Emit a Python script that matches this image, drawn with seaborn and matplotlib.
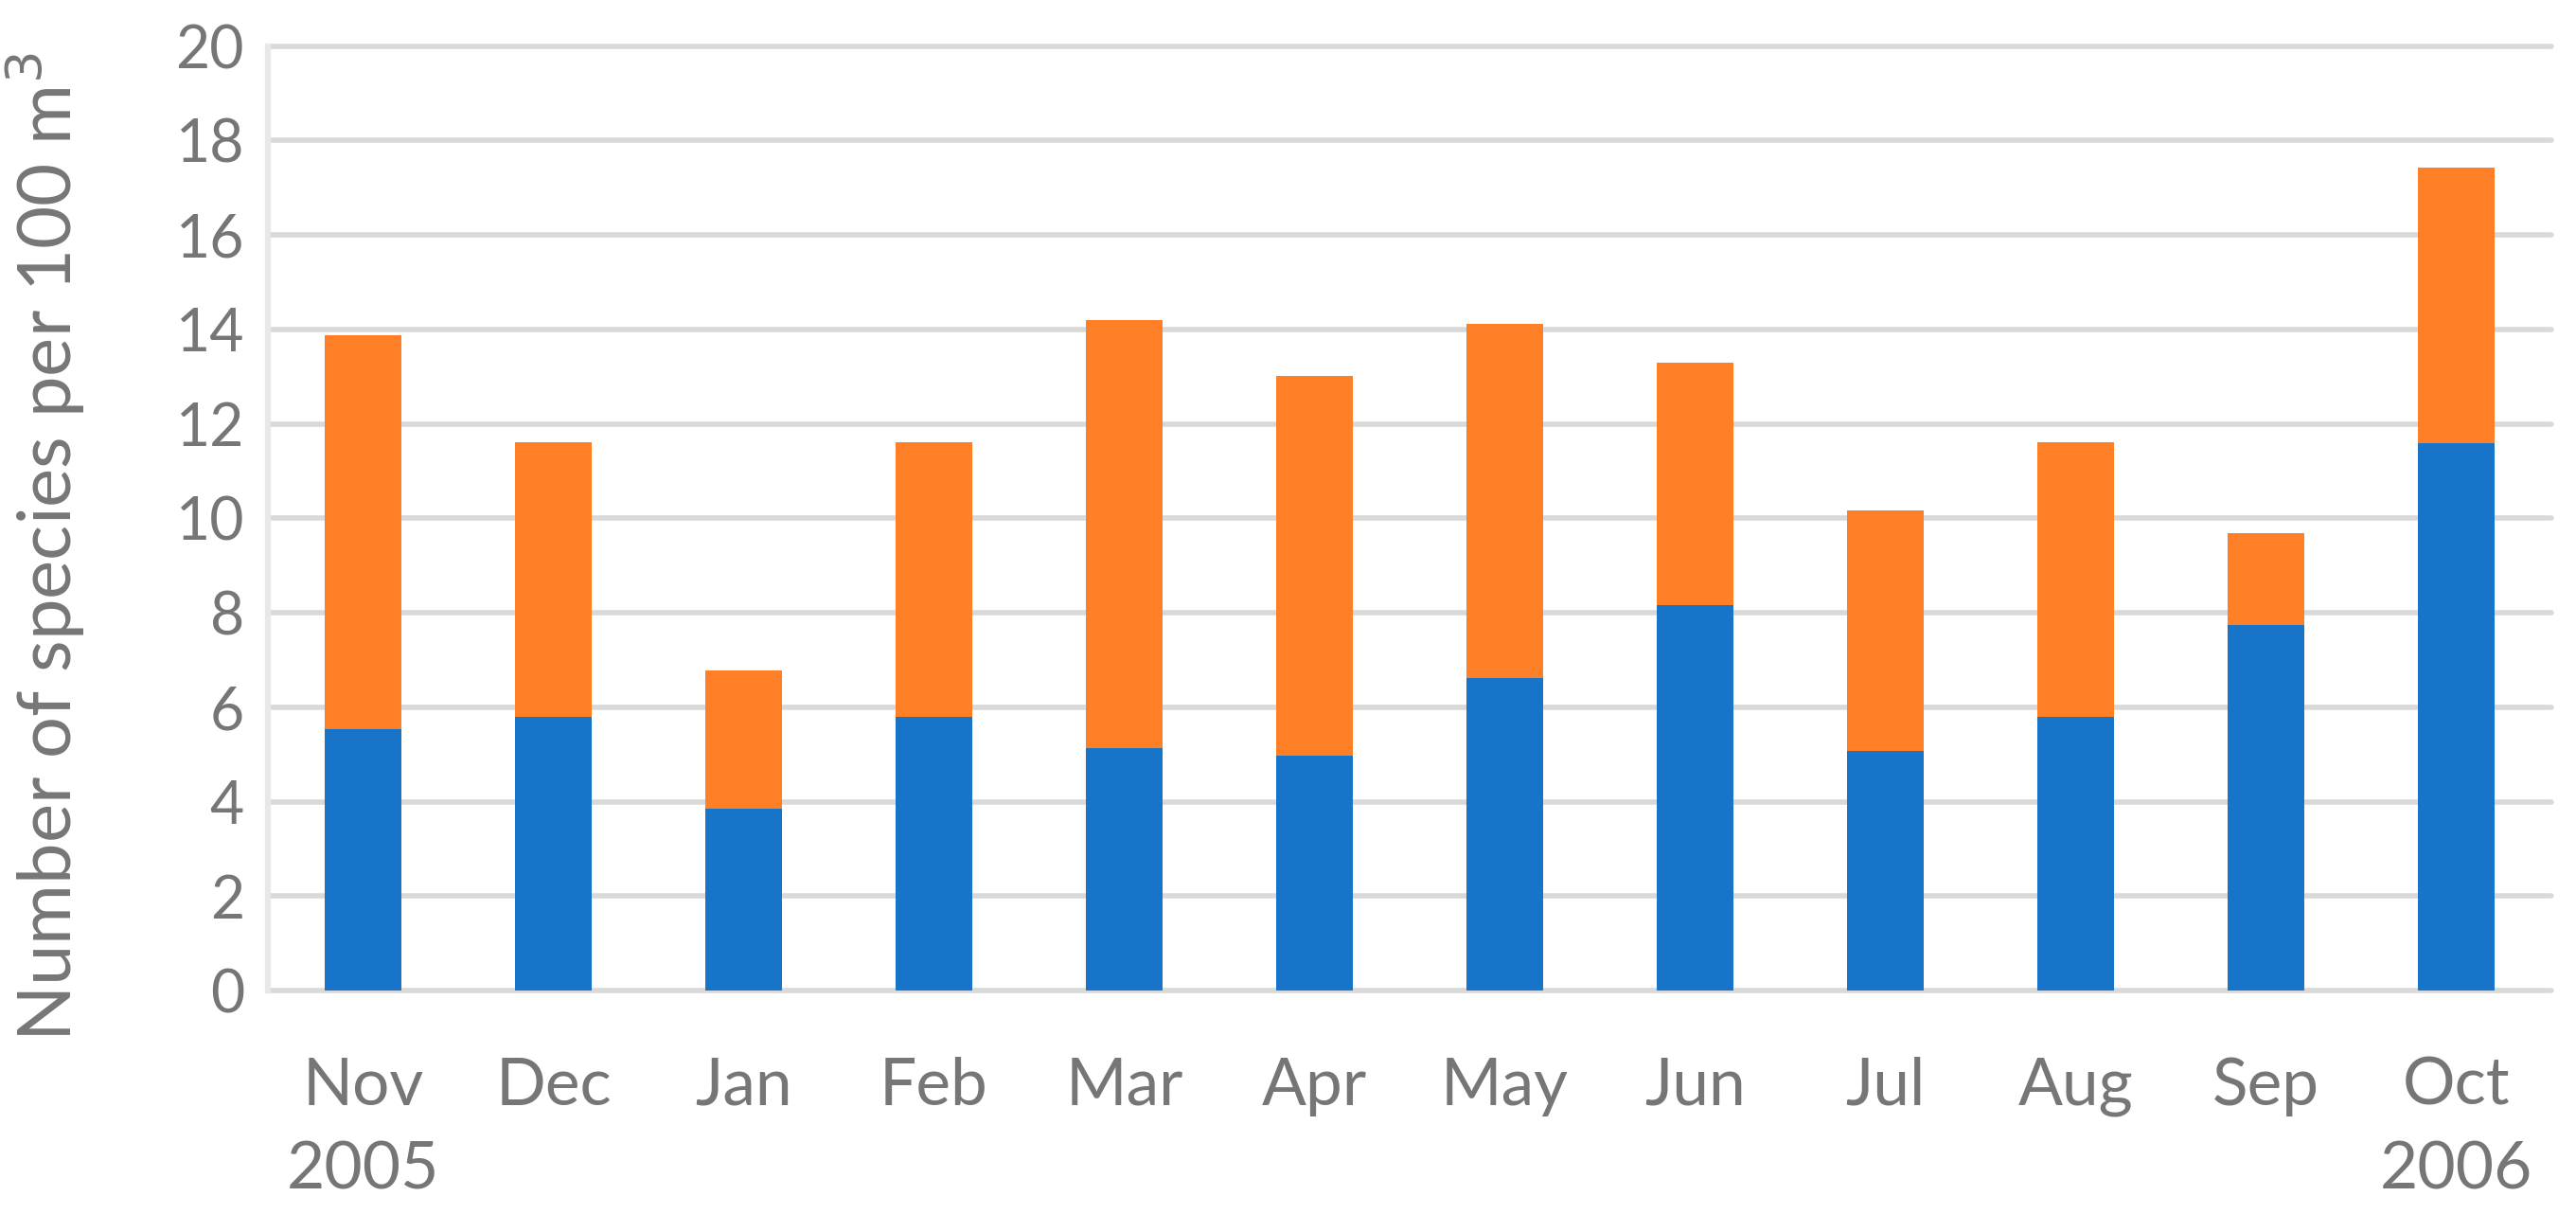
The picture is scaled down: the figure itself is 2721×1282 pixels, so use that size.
import matplotlib
matplotlib.use("Agg")
import matplotlib.pyplot as plt
import numpy as np
import pandas as pd
import seaborn as sns

# values (species per 100 m3)
MONTHS = ["Nov\n2005", "Dec", "Jan", "Feb", "Mar", "Apr", "May", "Jun",
          "Jul", "Aug", "Sep", "Oct\n2006"]
BLUE_VALUES = [5.54, 5.79, 3.85, 5.79, 5.14, 4.98, 6.62, 8.16, 5.07, 5.79, 7.74, 11.60]
ORANGE_VALUES = [8.33, 5.83, 2.92, 5.83, 9.06, 8.03, 7.49, 5.13, 5.09, 5.83, 1.94, 5.83]
Y_TICKS = list(range(0, 21, 2))

BLUE = "#1874c8"
ORANGE = "#fe7f26"
TEXT = "#767676"
GRID = "#d9d9d9"

sns.set_style("white")
plt.rcParams["font.family"] = ["Lato", "DejaVu Sans"]

df = pd.DataFrame({"month": MONTHS, "blue": BLUE_VALUES, "orange": ORANGE_VALUES})
df["total"] = df["blue"] + df["orange"]

fig = plt.figure(figsize=(27.21, 12.82), dpi=100)
ax = fig.add_axes([0.104, 0.184, 0.8865, 0.778])

# stacked bars: full height in orange, lower part painted blue over it
sns.barplot(data=df, x="month", y="total", color=ORANGE, saturation=1,
            width=0.4, linewidth=0, ax=ax, zorder=3)
sns.barplot(data=df, x="month", y="blue", color=BLUE, saturation=1,
            width=0.4, linewidth=0, ax=ax, zorder=3)

ax.set_xlim(-0.5, len(MONTHS) - 0.5)
ax.set_ylim(0, 20)
ax.set_yticks(Y_TICKS)
ax.set_xlabel("")
ax.set_ylabel("Number of species per 100 m$^3$", fontsize=56, color=TEXT)
ax.yaxis.set_label_coords(-0.079, 0.47)

for y in Y_TICKS:
    ax.axhline(y, color=GRID, lw=4, zorder=1, clip_on=False)

for side in ["top", "right", "bottom"]:
    ax.spines[side].set_visible(False)
ax.spines["left"].set_color("#e8e8e8")
ax.spines["left"].set_linewidth(4.5)

ax.tick_params(axis="y", labelsize=45, labelcolor=TEXT, length=12, width=4,
               color="#e8e8e8", pad=6)
ax.tick_params(axis="x", labelsize=50, labelcolor=TEXT, length=0, pad=50)
for lbl in ax.get_xticklabels():
    lbl.set_linespacing(1.5)

fig.savefig("out.png", dpi=100)
